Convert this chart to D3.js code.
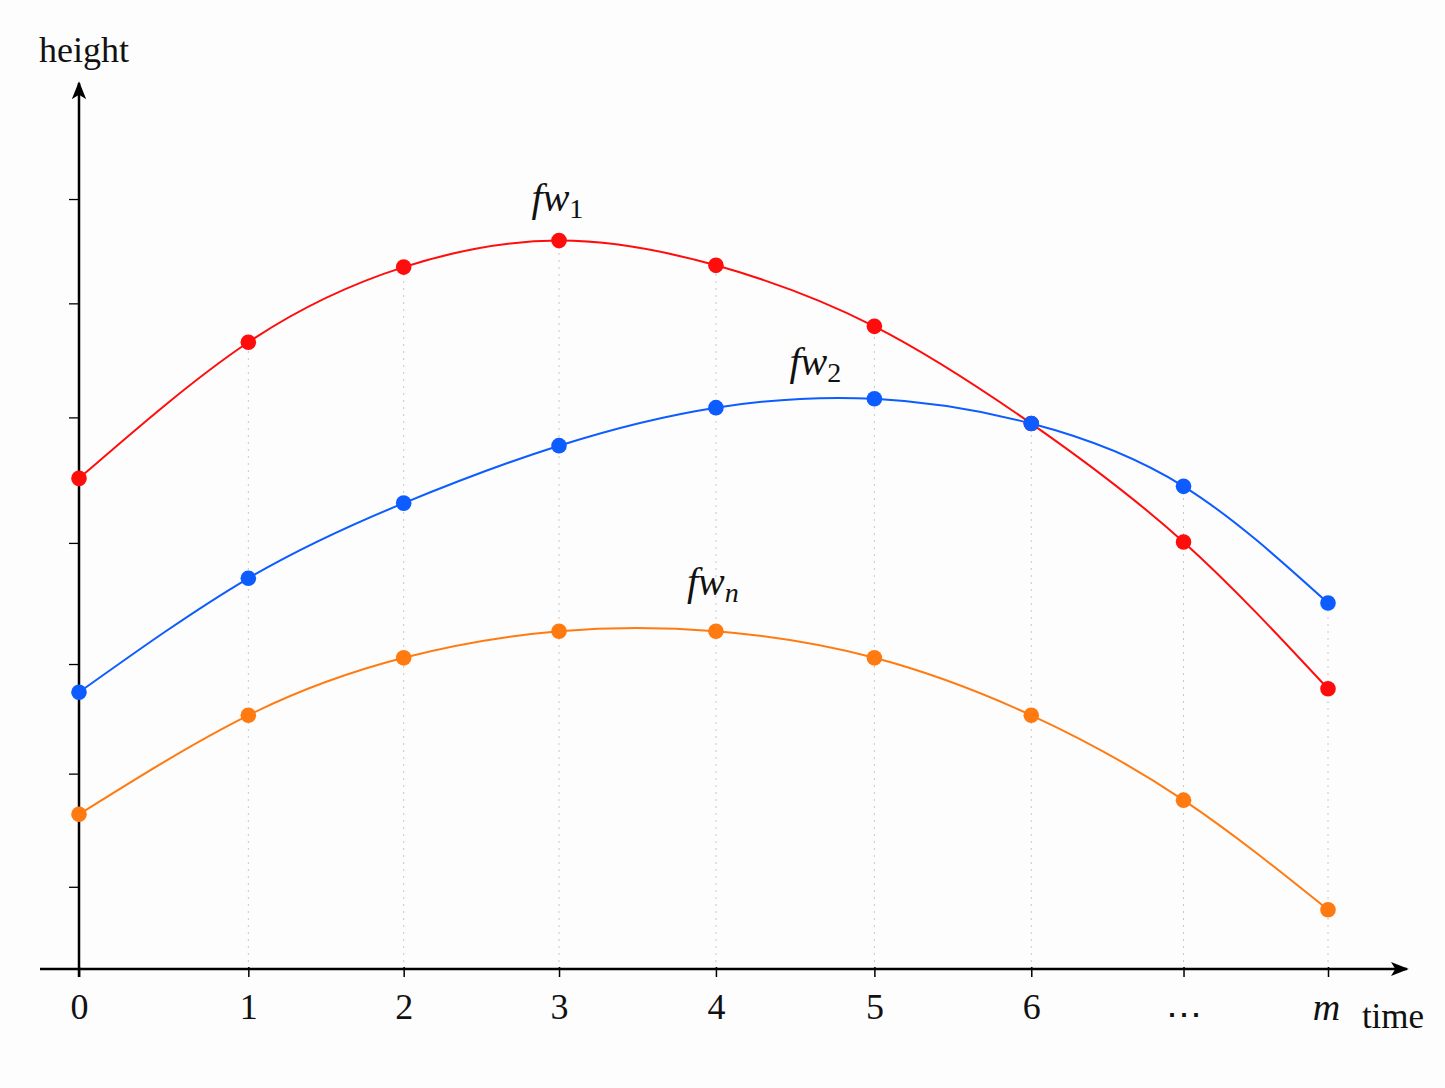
<!DOCTYPE html>
<html>
<head>
<meta charset="utf-8">
<script src="https://cdn.jsdelivr.net/npm/d3@7"></script>
<style>
  body { margin: 0; background: #fdfdfd; }
  svg { display: block; }
</style>
</head>
<body>
<div id="chart"></div>
<script>
// Data
var tickLabels = ["0", "1", "2", "3", "4", "5", "6", "\u22EF", "m"];
var timeValues = [0, 1.09, 2.09, 3.09, 4.1, 5.12, 6.13, 7.11, 8.04];
var yTicks = [9.3, 22.1, 34.5, 48.2, 62.4, 75.3, 87.1];

var fw1 = [55.5, 70.9, 79.4, 82.4, 79.6, 72.7, 61.7, 48.3, 31.7];
var fw2 = [31.3, 44.2, 52.7, 59.2, 63.5, 64.5, 61.7, 54.6, 41.4];
var fwn = [17.5, 28.7, 35.2, 38.2, 38.2, 35.2, 28.7, 19.1, 6.7];

var seriesNames = ["fw1", "fw2", "fwn"];
var seriesColors = ["#ff0d0d", "#0d5cff", "#ff7b12"];
// label anchor: [time, height, subscript]
var labelPos = [[3.08, 85.8, "1"], [4.74, 67.2, "2"], [4.08, 42.3, "n"]];

var W = 1445, H = 1088,
    font_family = "'Liberation Serif', 'DejaVu Serif', serif";

var xScale = d3.scaleLinear().domain([0, 8.04]).range([79, 1328]),
    yScale = d3.scaleLinear().domain([0, 100]).range([969, 85]);

var svg = d3.select("#chart").append("svg")
  .attr("width", W)
  .attr("height", H);

svg.append("defs").append("marker")
  .attr("id", "arrow")
  .attr("viewBox", "0 0 10 10")
  .attr("refX", 9)
  .attr("refY", 5)
  .attr("markerWidth", 18)
  .attr("markerHeight", 18)
  .attr("markerUnits", "userSpaceOnUse")
  .attr("orient", "auto")
  .append("path")
    .attr("d", "M0,1 L10,5 L0,9 L2.5,5 Z")
    .attr("fill", "#000");

var allSeries = [fw1, fw2, fwn];

// dotted guides from axis up to the highest point
svg.append("g").selectAll("line")
  .data(timeValues.slice(1))
  .enter().append("line")
    .attr("x1", function(d) { return xScale(d); })
    .attr("x2", function(d) { return xScale(d); })
    .attr("y1", yScale(0))
    .attr("y2", function(d, i) {
      return yScale(d3.max(allSeries, function(s) { return s[i + 1]; }));
    })
    .attr("stroke", "#c8c8c8")
    .attr("stroke-width", 1)
    .attr("stroke-dasharray", "2,5");

// axes
var xAxis = d3.axisBottom(xScale)
  .tickValues(timeValues)
  .tickFormat(function(d, i) { return tickLabels[i]; })
  .tickSize(8)
  .tickSizeOuter(0);

var gx = svg.append("g")
  .attr("transform", "translate(0," + yScale(0) + ")")
  .call(xAxis);
gx.select(".domain").remove();
gx.selectAll(".tick line").attr("stroke", "#000").attr("stroke-width", 1.5).attr("y1", -2);
gx.selectAll(".tick text")
  .attr("font-family", font_family)
  .attr("font-size", 36)
  .attr("fill", "#111")
  .attr("y", function(d, i) { return tickLabels[i] == "\u22EF" ? 32 : 24; })
  .attr("dy", "0.71em")
  .attr("font-style", function(d, i) { return tickLabels[i] == "m" ? "italic" : "normal"; })
  .attr("font-size", function(d, i) { return tickLabels[i] == "m" ? 38 : 36; })
  .attr("dx", function(d, i) { return tickLabels[i] == "m" ? -2 : 0; });

var gy = svg.append("g")
  .attr("transform", "translate(" + xScale(0) + ",0)")
  .call(d3.axisLeft(yScale).tickValues(yTicks).tickFormat("").tickSize(10).tickSizeOuter(0));
gy.select(".domain").remove();
gy.selectAll(".tick line").attr("stroke", "#000").attr("stroke-width", 1.3);

svg.append("line")
  .attr("x1", 40).attr("x2", 1407)
  .attr("y1", yScale(0)).attr("y2", yScale(0))
  .attr("stroke", "#000").attr("stroke-width", 2.5)
  .attr("marker-end", "url(#arrow)");

svg.append("line")
  .attr("x1", xScale(0)).attr("x2", xScale(0))
  .attr("y1", yScale(0) + 8).attr("y2", yScale(100) - 2)
  .attr("stroke", "#000").attr("stroke-width", 2.5)
  .attr("marker-end", "url(#arrow)");

// axis labels
svg.append("text")
  .attr("x", 84).attr("y", 62)
  .attr("text-anchor", "middle")
  .attr("font-family", font_family)
  .attr("font-size", 36)
  .attr("fill", "#111")
  .text("height");

svg.append("text")
  .attr("x", 1393).attr("y", 1028)
  .attr("text-anchor", "middle")
  .attr("font-family", font_family)
  .attr("font-size", 35)
  .attr("fill", "#111")
  .text("time");

// curves and points
var line = d3.line()
  .x(function(d, i) { return xScale(timeValues[i]); })
  .y(function(d) { return yScale(d); })
  .curve(d3.curveNatural);

var series = svg.selectAll(".series")
  .data(allSeries)
  .enter().append("g")
    .attr("class", "series");

series.append("path")
  .attr("d", function(d) { return line(d); })
  .attr("fill", "none")
  .attr("stroke", function(d, i) { return seriesColors[i]; })
  .attr("stroke-width", 2);

series.selectAll("circle")
  .data(function(d, i) { return d.map(function(v, j) { return {v: v, j: j, c: seriesColors[i]}; }); })
  .enter().append("circle")
    .attr("cx", function(d) { return xScale(timeValues[d.j]); })
    .attr("cy", function(d) { return yScale(d.v); })
    .attr("r", 7.8)
    .attr("fill", function(d) { return d.c; });

// series labels
var labels = svg.selectAll(".label")
  .data(labelPos)
  .enter().append("text")
    .attr("class", "label")
    .attr("x", function(d) { return xScale(d[0]); })
    .attr("y", function(d) { return yScale(d[1]); })
    .attr("text-anchor", "middle")
    .attr("font-family", font_family)
    .attr("font-size", 40)
    .attr("fill", "#111");

labels.append("tspan").attr("font-style", "italic").text("fw");
labels.append("tspan")
  .attr("font-size", 28)
  .attr("dy", 7)
  .attr("font-style", function(d) { return d[2] == "n" ? "italic" : "normal"; })
  .text(function(d) { return d[2]; });
</script>
</body>
</html>
